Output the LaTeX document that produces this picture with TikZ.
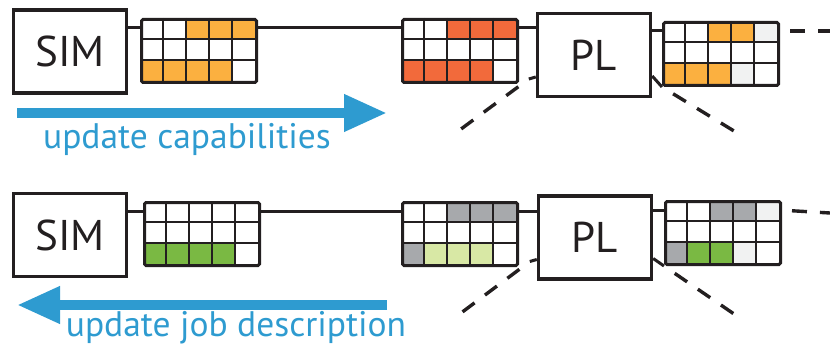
\documentclass[tikz,border=0pt]{standalone}
\usepackage{fontspec}
\setmainfont{PT Sans}
\usetikzlibrary{calc,arrows.meta}

\definecolor{ink}{HTML}{231F20}
\definecolor{capblue}{HTML}{2E9BD0}
\definecolor{or}{HTML}{FBB040}
\definecolor{rd}{HTML}{F26A3B}
\definecolor{gy}{HTML}{A7A9AC}
\definecolor{lg}{HTML}{F1F2F2}
\definecolor{gn}{HTML}{7AB943}
\definecolor{pg}{HTML}{D8E8A5}

\tikzset{
  unitbox/.style={draw=ink,line width=3.4pt,minimum width=113pt,minimum height=83pt,
    inner sep=0pt,font=\fontsize{43}{43}\selectfont,text=ink},
  slotframe/.style={draw=ink,line width=3pt,rounded corners=1.5pt,minimum width=115pt,
    minimum height=63pt,inner sep=0pt},
  cellline/.style={draw=ink,line width=2.6pt},
  link/.style={draw=ink,line width=3pt},
  fade/.style={draw=ink,line width=3.4pt,dash pattern=on 15pt off 13pt,dash phase=15pt},
  flow/.style={draw=capblue,line width=10pt,-{Triangle[length=43pt,width=35pt]}},
  flowtext/.style={text=capblue,font=\fontsize{35.5}{36}\selectfont,inner sep=0pt}
}

% name, x, y (top left), colours row by row
\newcommand{\slotgrid}[4]{%
  \foreach \fc [count=\k from 0] in {#4} {
    \pgfmathtruncatemacro{\cc}{mod(\k,5)}
    \pgfmathtruncatemacro{\rr}{div(\k,5)}
    \fill[fill=\fc] ({#2+\cc*23},{#3+\rr*21}) rectangle ++(23,21);
  }
  \foreach \cc in {1,...,4} \draw[cellline] ({#2+\cc*23},#3) -- ++(0,63);
  \foreach \rr in {1,2} \draw[cellline] (#2,{#3+\rr*21}) -- ++(115,0);
  \node[slotframe,anchor=north west] (#1) at (#2,#3) {};
  \coordinate (#1-in) at (#2,{#3+10});
  \coordinate (#1-out) at ({#2+115},{#3+10});
}

\begin{document}
\begin{tikzpicture}[x=1pt,y=-1pt]
\useasboundingbox (0,0) rectangle (830,350);

\node[unitbox] (sim1) at (70,51.5) {SIM};
\node[unitbox] (pl1) at (594,55) {PL};
\slotgrid{cap1}{140}{18}{white,white,or,or,or,white,white,white,white,white,or,or,or,or,white}
\slotgrid{cap2}{401}{18}{white,white,rd,rd,rd,white,white,white,white,white,rd,rd,rd,rd,white}
\slotgrid{cap3}{662}{21}{white,white,or,or,lg,white,white,white,white,white,or,or,or,lg,white}

\node[unitbox] (sim2) at (70,235) {SIM};
\node[unitbox] (pl2) at (595,237.5) {PL};
\slotgrid{job1}{143}{201}{white,white,white,white,white,white,white,white,white,white,gn,gn,gn,gn,white}
\slotgrid{job2}{401}{201}{white,white,gy,gy,gy,white,white,white,white,white,gy,pg,pg,pg,white}
\slotgrid{job3}{664}{200}{white,white,gy,gy,lg,white,white,white,white,white,gy,gn,gn,lg,white}

% top row
\draw[link] (sim1.east |- cap1-in) -- (cap1-in);
\draw[link] (cap1-out) -- (cap2-in);
\draw[link] (cap2-out) -- (pl1.west |- cap2-out);
\draw[link] (pl1.east |- cap3-in) -- (cap3-in);
\draw[fade] (cap3-out) -- (830,31);
\draw[link] ([yshift=-22pt]pl1.west) -- ++(-7,2) coordinate (pl1-l);
\draw[fade] (pl1-l) -- (457,132);
\draw[link] ([yshift=-21pt]pl1.east) -- (cap3.south west);
\draw[fade] (cap3.south west) -- (734,131);

% bottom row
\draw[link] (sim2.east |- job1-in) -- (job1-in);
\draw[link] (job1-out) -- (job2-in);
\draw[link] (job2-out) -- (pl2.west |- job2-out);
\draw[link] (pl2.east |- job3-in) -- (job3-in);
\draw[fade] (job3-out) -- (830,213);
\draw[link] ([yshift=-22pt]pl2.west) -- ++(-7,2) coordinate (pl2-l);
\draw[fade] (pl2-l) -- (457,316);
\draw[link] ([yshift=-21pt]pl2.east) -- (job3.south west);
\draw[fade] (job3.south west) -- (734,314);

% messages
\coordinate (up0) at (17,113);
\coordinate (up1) at (387,113);
\draw[flow] (up0) -- (up1);
\node[flowtext] (uptext) at (187,139) {update capabilities};
\coordinate (dn0) at (387,305);
\coordinate (dn1) at (17,305);
\draw[flow] (dn0) -- (dn1);
\node[flowtext] (dntext) at (236,328) {update job description};
\end{tikzpicture}
\end{document}
